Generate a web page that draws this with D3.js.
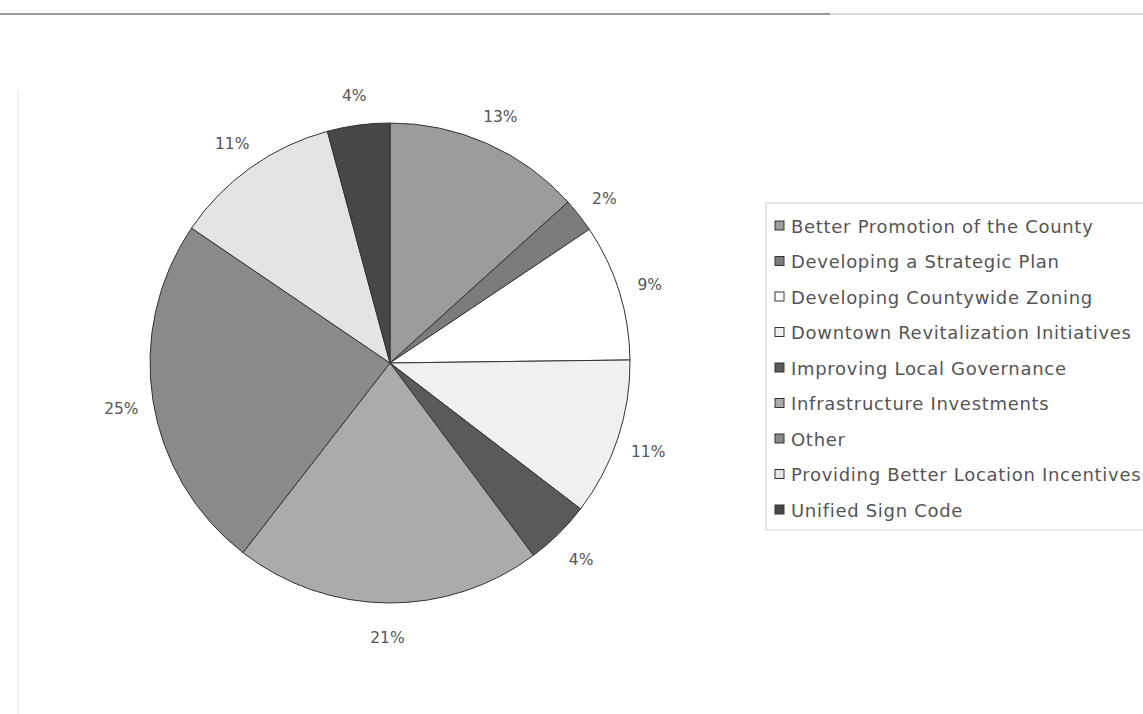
<!DOCTYPE html>
<html><head><meta charset="utf-8">
<script src="https://cdn.jsdelivr.net/npm/d3@7"></script>
<style>body{margin:0;background:#fff;}svg{display:block;}</style>
</head><body>
<script>
const categories = ["Better Promotion of the County","Developing a Strategic Plan","Developing Countywide Zoning","Downtown Revitalization Initiatives","Improving Local Governance","Infrastructure Investments","Other","Providing Better Location Incentives","Unified Sign Code"];
const values = [13.3, 2.3, 9.2, 10.6, 4.4, 20.7, 24.0, 11.3, 4.2];
const labels = ["13%","2%","9%","11%","4%","21%","25%","11%","4%"];
const colors = ["#9c9c9c","#7c7c7c","#ffffff","#f0f0f0","#5a5a5a","#ababab","#8a8a8a","#e4e4e4","#474747"];

const W=1143,H=714;
const svg=d3.select("body").append("svg").attr("width",W).attr("height",H);
svg.append("line").attr("x1",0).attr("x2",830).attr("y1",14).attr("y2",14).attr("stroke","#999").attr("stroke-width",2);
svg.append("line").attr("x1",830).attr("x2",W).attr("y1",14).attr("y2",14).attr("stroke","#ccc").attr("stroke-width",1.5);
svg.append("line").attr("x1",18).attr("x2",18).attr("y1",90).attr("y2",714).attr("stroke","#e6e6e6").attr("stroke-width",1);

const cx=390, cy=363, r=240;
const pie=d3.pie().sort(null).value(d=>d)(values);
const arc=d3.arc().innerRadius(0).outerRadius(r);
const g=svg.append("g").attr("transform",`translate(${cx},${cy})`);
g.selectAll("path").data(pie).join("path").attr("d",arc)
 .attr("fill",(d,i)=>colors[i]).attr("stroke","#333").attr("stroke-width",1);
const lr=r+32;
g.selectAll("text").data(pie).join("text")
 .attr("x",d=>lr*Math.sin((d.startAngle+d.endAngle)/2))
 .attr("y",d=>-lr*Math.cos((d.startAngle+d.endAngle)/2)+3)
 .attr("text-anchor","middle").attr("dominant-baseline","central")
 .attr("font-family","DejaVu Sans, sans-serif").attr("font-size",15.5).attr("fill","#555")
 .text((d,i)=>labels[i]);

const lg=svg.append("g");
lg.append("rect").attr("x",766).attr("y",203).attr("width",400).attr("height",327).attr("fill","#fff").attr("stroke","#ccc").attr("stroke-width",1);
const y0=226, dy=35.5;
categories.forEach((c,i)=>{
  lg.append("rect").attr("x",775).attr("y",y0+i*dy-5).attr("width",9).attr("height",9)
    .attr("fill",colors[i]).attr("stroke","#333").attr("stroke-width",1);
  lg.append("text").attr("x",791).attr("y",y0+i*dy).attr("dominant-baseline","central")
    .attr("font-family","DejaVu Sans, sans-serif").attr("font-size",18).attr("letter-spacing",0.7).attr("fill","#555").text(c);
});
</script>
</body></html>
